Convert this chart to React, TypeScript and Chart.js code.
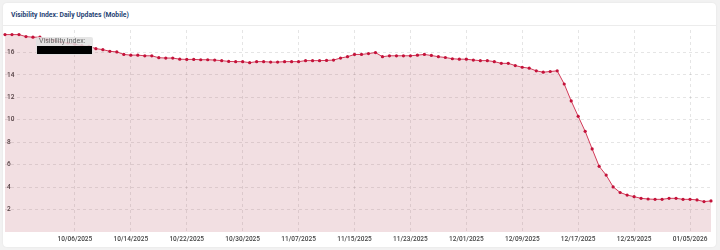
import React, { useEffect, useRef } from 'react';
import { Chart, registerables } from 'chart.js';

Chart.register(...registerables);

const startDate = '2025-09-26';
const endDate = '2026-01-08';
const skippedDates = ['2025-12-31', '2026-01-01', '2026-01-02'];

const tickLabels = [
  '10/06/2025', '10/14/2025', '10/22/2025', '10/30/2025', '11/07/2025', '11/15/2025',
  '11/23/2025', '12/01/2025', '12/09/2025', '12/17/2025', '12/25/2025', '01/05/2026',
];

const yTicks = [2, 4, 6, 8, 10, 12, 14, 16];

const visibility = [
  17.59, 17.59, 17.59, 17.41, 17.36, 17.36, 17.15, 17.07, 16.93, 16.84,
  16.73, 16.6, 16.54, 16.34, 16.25, 16.1, 16.05, 15.82, 15.76, 15.76,
  15.7, 15.7, 15.53, 15.5, 15.5, 15.4, 15.38, 15.38, 15.35, 15.35,
  15.32, 15.27, 15.2, 15.18, 15.18, 15.09, 15.18, 15.18, 15.14, 15.14,
  15.18, 15.18, 15.18, 15.27, 15.27, 15.27, 15.29, 15.32, 15.5, 15.62,
  15.82, 15.82, 15.9, 15.99, 15.62, 15.7, 15.7, 15.7, 15.7, 15.76,
  15.82, 15.73, 15.62, 15.55, 15.44, 15.4, 15.4, 15.32, 15.27, 15.27,
  15.18, 15.03, 15.03, 14.83, 14.68, 14.6, 14.36, 14.24, 14.3, 14.36,
  13.19, 11.68, 10.31, 8.97, 7.4, 5.85, 5.07, 4.02, 3.52, 3.29,
  3.15, 3.0, 2.94, 2.91, 2.91, 3.0, 3.0, 2.91, 2.91, 2.86,
  2.71, 2.77,
];

function buildCategories(): string[] {
  const out: string[] = [];
  const d = new Date(startDate + 'T00:00:00Z');
  const end = new Date(endDate + 'T00:00:00Z');
  while (d.getTime() <= end.getTime()) {
    const iso = d.toISOString().slice(0, 10);
    if (!skippedDates.includes(iso)) {
      const [y, m, day] = iso.split('-');
      out.push(`${m}/${day}/${y}`);
    }
    d.setUTCDate(d.getUTCDate() + 1);
  }
  return out;
}

const categories = buildCategories();

export default function App() {
  const canvasRef = useRef<HTMLCanvasElement | null>(null);

  useEffect(() => {
    document.body.style.margin = '0';
    const ctx = canvasRef.current;
    if (!ctx) return;
    const font = { family: 'Roboto, "Noto Sans", sans-serif', size: 6.5, weight: '500' as const };
    const chart = new Chart(ctx, {
      type: 'line',
      data: {
        labels: categories,
        datasets: [
          {
            label: 'Visibility Index',
            data: visibility,
            borderColor: '#d23a58',
            borderWidth: 1,
            backgroundColor: 'rgba(170, 40, 60, 0.15)',
            fill: 'origin',
            pointRadius: 1.6,
            pointBackgroundColor: '#c4123a',
            pointBorderWidth: 0,
            tension: 0,
          },
        ],
      },
      options: {
        animation: false,
        responsive: false,
        maintainAspectRatio: false,
        layout: { padding: 0 },
        plugins: { legend: { display: false }, tooltip: { enabled: false } },
        scales: {
          x: {
            type: 'category',
            offset: false,
            afterBuildTicks: (scale: any) => {
              scale.ticks = scale.ticks.filter((t: any) =>
                tickLabels.includes(categories[t.value])
              );
            },
            afterFit: (scale: any) => {
              scale.height = 15;
              scale.paddingLeft = 0;
              scale.paddingRight = 0;
            },
            ticks: {
              autoSkip: false,
              maxRotation: 0,
              padding: 3,
              color: '#444',
              font,
              callback: function (this: any, value: any) {
                return categories[value as number];
              },
            },
            grid: { drawTicks: false, color: 'rgba(0,0,0,0.1)' },
            border: { display: false, dash: [3, 3] },
          },
          y: {
            min: 0,
            max: 18,
            afterBuildTicks: (scale: any) => {
              scale.ticks = [0, ...yTicks, 18].map((v) => ({ value: v }));
            },
            afterFit: (scale: any) => {
              scale.width = 0;
              scale.paddingTop = 0;
              scale.paddingBottom = 0;
            },
            ticks: {
              mirror: true,
              padding: 2,
              color: '#444',
              font,
              callback: (v: any) => (yTicks.includes(v) ? String(v) : ''),
            },
            grid: {
              drawTicks: false,
              color: (c: any) =>
                c.tick && yTicks.includes(c.tick.value) ? 'rgba(0,0,0,0.1)' : 'rgba(0,0,0,0)',
            },
            border: { display: false, dash: [3, 3] },
          },
        },
      },
    });
    return () => chart.destroy();
  }, []);

  return (
    <div style={{ position: 'relative', width: 720, height: 250, background: '#f2f2f2', overflow: 'hidden' }}>
      <div
        style={{
          position: 'absolute',
          left: 3,
          top: 3,
          width: 713,
          height: 244,
          background: '#fff',
          borderRadius: 4,
          overflow: 'hidden',
          boxShadow: '0 0 2px rgba(0,0,0,0.08)',
        }}
      >
        <div
          style={{
            position: 'absolute',
            left: 8,
            top: 0,
            height: 22,
            lineHeight: '24px',
            fontFamily: 'Roboto, "Noto Sans", sans-serif',
            fontWeight: 700,
            fontSize: 6.8,
            color: '#1f3f73',
            whiteSpace: 'nowrap',
          }}
        >
          Visibility Index: Daily Updates (Mobile)
        </div>
        <div style={{ position: 'absolute', left: 0, top: 22, width: 713, height: 1, background: '#ececec' }} />
        <div style={{ position: 'absolute', left: -2, top: 23, width: 714, height: 221 }}>
          <canvas ref={canvasRef} width={714} height={221} style={{ display: 'block', width: 714, height: 221 }} />
        </div>
        <div
          style={{
            position: 'absolute',
            left: 33,
            top: 34,
            width: 57,
            height: 18,
            background: 'rgba(226,226,226,0.85)',
            borderRadius: 2,
            zIndex: 2,
          }}
        >
          <div
            style={{
              position: 'absolute',
              left: 3,
              top: 0,
              fontFamily: 'Roboto, "Noto Sans", sans-serif',
              fontSize: 7,
              lineHeight: '9px',
              color: '#666',
              whiteSpace: 'nowrap',
            }}
          >
            Visibility Index:
          </div>
          <div style={{ position: 'absolute', left: 1, top: 9, width: 55, height: 8, background: '#000' }} />
        </div>
      </div>
    </div>
  );
}
